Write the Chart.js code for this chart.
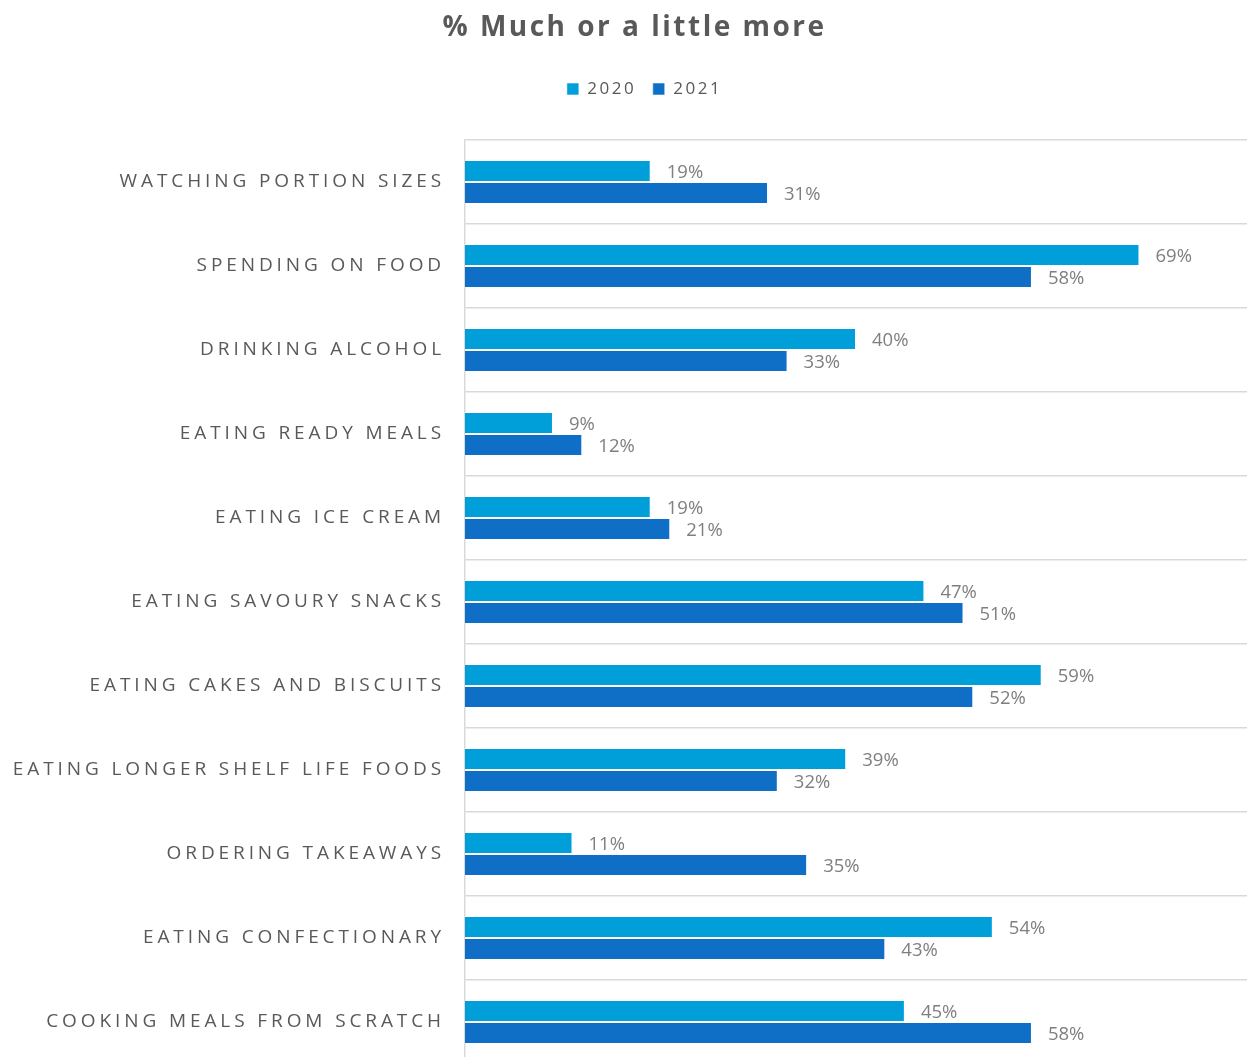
<!DOCTYPE html>
<html>
<head>
<meta charset="utf-8">
<script src="https://cdn.jsdelivr.net/npm/chart.js@4"></script>
<style>
  html, body { margin: 0; padding: 0; overflow: hidden; background: #fff; }
  #wrap { width: 1247px; height: 1064px; position: relative; }
</style>
</head>
<body>
<div id="wrap"><canvas id="moreChart"></canvas></div>
<script>
var categories = [
  "WATCHING PORTION SIZES",
  "SPENDING ON FOOD",
  "DRINKING ALCOHOL",
  "EATING READY MEALS",
  "EATING ICE CREAM",
  "EATING SAVOURY SNACKS",
  "EATING CAKES AND BISCUITS",
  "EATING LONGER SHELF LIFE FOODS",
  "ORDERING TAKEAWAYS",
  "EATING CONFECTIONARY",
  "COOKING MEALS FROM SCRATCH"
];
var values2020 = [19, 69, 40, 9, 19, 47, 59, 39, 11, 54, 45];
var values2021 = [31, 58, 33, 12, 21, 51, 52, 32, 35, 43, 58];

var textGrey = "#595959";
var lineGrey = "#d9d9d9";

// percentages written next to each bar end, plus letter spacing for the other texts
var valueLabels = {
  id: "valueLabels",
  afterLayout: function(chart) {
    // let the long category names run into the left padding without being clipped
    chart.scales.y.left = 0;
  },
  beforeDraw: function(chart) {
    chart.ctx.letterSpacing = "2.5px";
  },
  afterDatasetsDraw: function(chart) {
    var ctx = chart.ctx;
    ctx.save();
    ctx.letterSpacing = "0px";
    ctx.font = "18.5px 'Open Sans'";
    ctx.fillStyle = "#7f7f7f";
    ctx.textBaseline = "middle";
    ctx.textAlign = "left";
    chart.data.datasets.forEach(function(ds, i) {
      chart.getDatasetMeta(i).data.forEach(function(bar, j) {
        ctx.fillText(ds.data[j] + "%", bar.x + 16, bar.y + 2);
      });
    });
    ctx.restore();
    // category names are drawn after this (ticks z: 1)
    ctx.letterSpacing = "3.9px";
  },
  afterDraw: function(chart) {
    chart.ctx.letterSpacing = "0px";
  }
};

var moreChart = new Chart(document.getElementById("moreChart"), {
  type: "bar",
  data: {
    labels: categories,
    datasets: [
      {
        label: "2020",
        data: values2020,
        backgroundColor: "#009fda",
        borderColor: "rgba(255,255,255,0.55)",
        borderWidth: 1,
        categoryPercentage: 0.524,
        barPercentage: 1
      },
      {
        label: "2021",
        data: values2021,
        backgroundColor: "#0f6fc6",
        borderColor: "rgba(255,255,255,0.55)",
        borderWidth: 1,
        categoryPercentage: 0.524,
        barPercentage: 1
      }
    ]
  },
  options: {
    indexAxis: "y",
    responsive: true,
    maintainAspectRatio: false,
    animation: false,
    layout: { padding: { left: 22, right: 0, top: 0, bottom: 0 } },
    scales: {
      x: {
        position: "top",
        min: 0,
        max: 80,
        grid: { display: false },
        border: { display: false },
        ticks: { display: false },
        // empty band between legend and plot
        afterFit: function(scale) { scale.height = 32.5; }
      },
      y: {
        afterFit: function(scale) {
          scale.width = 443;
          scale.paddingTop = 0;
          scale.paddingBottom = 0;
        },
        grid: { color: lineGrey, lineWidth: 1.5, drawTicks: false },
        border: { color: lineGrey, width: 1.5 },
        ticks: {
          z: 1,
          padding: 20,
          color: textGrey,
          font: { family: "'Open Sans'", size: 19 }
        }
      }
    },
    plugins: {
      title: {
        display: true,
        text: "% Much or a little more",
        color: textGrey,
        font: { family: "'Open Sans'", size: 28, weight: "bold" },
        padding: { top: 11, bottom: 19.4 }
      },
      legend: {
        position: "top",
        labels: {
          boxWidth: 12,
          boxHeight: 12,
          padding: 16.5,
          color: textGrey,
          font: { family: "'Open Sans'", size: 17 }
        }
      },
      tooltip: { enabled: false }
    }
  },
  plugins: [valueLabels]
});
</script>
</body>
</html>
